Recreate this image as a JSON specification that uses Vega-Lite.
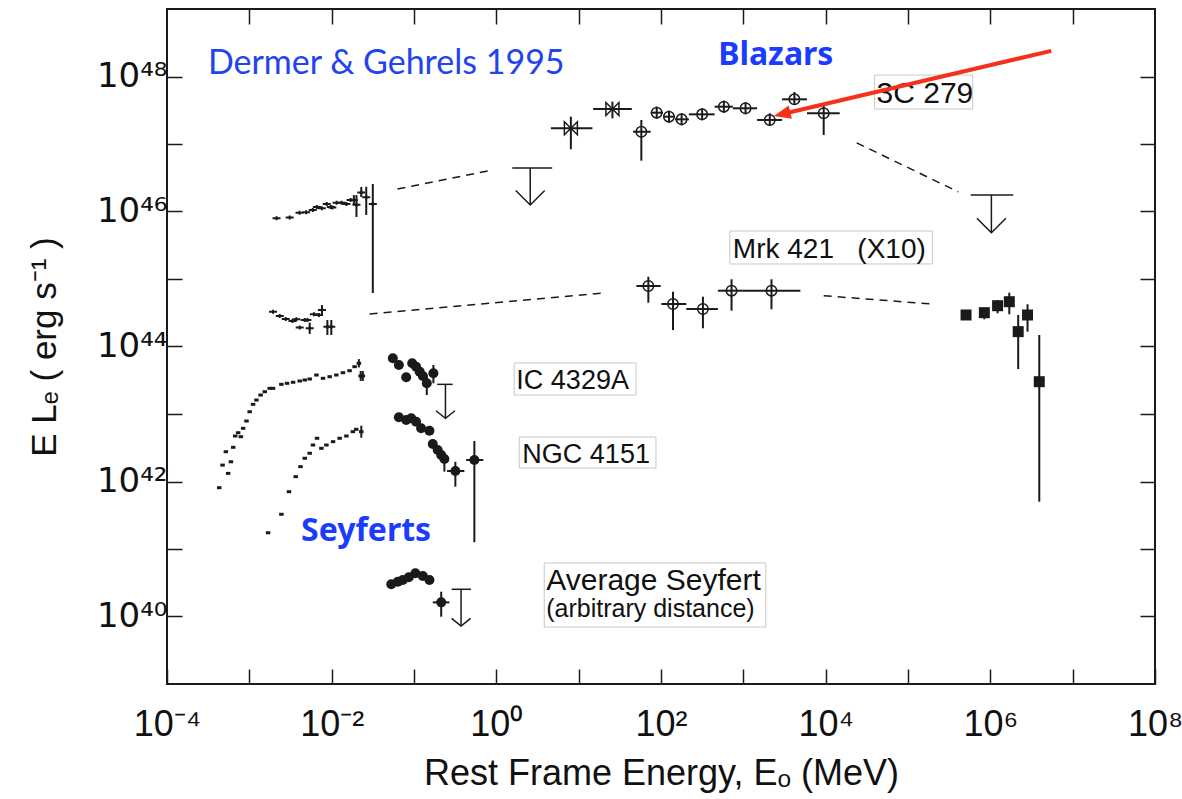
{
  "$schema": "https://vega.github.io/schema/vega-lite/v6.json",
  "width": 988,
  "height": 675,
  "autosize": {"type": "none"},
  "padding": {"left": 167, "top": 9, "right": 27, "bottom": 115},
  "background": "white",
  "config": {"view": {"stroke": "#1a1a1a", "strokeWidth": 2}},
  "resolve": {"axis": {"x": "independent", "y": "independent"}},
  "datasets": {
    "boxes": [
      {"E1": 39300, "E2": 610000, "L1": 3.3e47, "L2": 1.05e48},
      {"E1": 686, "E2": 198000, "L1": 1.67e45, "L2": 5.14e45},
      {"E1": 1.65, "E2": 49.8, "L1": 1.91e43, "L2": 5.7e43},
      {"E1": 1.9, "E2": 86.9, "L1": 1.58e42, "L2": 4.56e42},
      {"E1": 3.82, "E2": 1875, "L1": 6.99e39, "L2": 6.21e40}
    ],
    "dash": [
      {"seg": "a", "E": 0.063, "L": 2.15e46}, {"seg": "a", "E": 0.895, "L": 4.12e46},
      {"seg": "b", "E": 23800, "L": 1.04e47}, {"seg": "b", "E": 409000, "L": 1.95e46},
      {"seg": "c", "E": 0.0289, "L": 3.03e44}, {"seg": "c", "E": 20.4, "L": 6.2e44},
      {"seg": "d", "E": 9460, "L": 5.66e44}, {"seg": "d", "E": 193000, "L": 4.26e44}
    ],
    "pts": [
      {"g": "circ", "E": 57.7, "L": 1.52e47, "Elo": 45.8, "Ehi": 75, "Llo": 5.66e46, "Lhi": 2.27e47},
      {"g": "circ", "E": 88.7, "L": 2.91e47, "Elo": 75, "Ehi": 105.7, "Llo": 2.37e47, "Lhi": 3.58e47},
      {"g": "circ", "E": 125, "L": 2.54e47, "Elo": 105.7, "Ehi": 148, "Llo": 2.07e47, "Lhi": 3.12e47},
      {"g": "circ", "E": 178, "L": 2.32e47, "Elo": 148, "Ehi": 218, "Llo": 1.89e47, "Lhi": 2.85e47},
      {"g": "circ", "E": 316, "L": 2.75e47, "Elo": 218, "Ehi": 448, "Llo": 2.24e47, "Lhi": 3.38e47},
      {"g": "circ", "E": 580, "L": 3.57e47, "Elo": 448, "Ehi": 746, "Llo": 2.9e47, "Lhi": 4.39e47},
      {"g": "circ", "E": 1064, "L": 3.38e47, "Elo": 746, "Ehi": 1469, "Llo": 2.75e47, "Lhi": 4.16e47},
      {"g": "circ", "E": 2094, "L": 2.27e47, "Elo": 1469, "Ehi": 2953, "Llo": 1.85e47, "Lhi": 2.85e47},
      {"g": "circ", "E": 4170, "L": 4.59e47, "Elo": 2953, "Ehi": 5930, "Llo": 3.78e47, "Lhi": 5.9e47},
      {"g": "circ", "E": 9460, "L": 2.85e47, "Elo": 5930, "Ehi": 14800, "Llo": 1.36e47, "Lhi": 4.01e47},
      {"g": "bow", "E": 8.04, "L": 1.71e47, "Elo": 4.6, "Ehi": 14.7, "Llo": 8.35e46, "Lhi": 2.54e47},
      {"g": "bow", "E": 25.7, "L": 3.3e47, "Elo": 15, "Ehi": 44.2, "Llo": 2.4e47, "Lhi": 4.24e47},
      {"g": "circ", "E": 70.2, "L": 7.87e44, "Elo": 50.2, "Ehi": 99, "Llo": 4.46e44, "Lhi": 1.08e45},
      {"g": "circ", "E": 139.8, "L": 4.26e44, "Elo": 101, "Ehi": 203, "Llo": 1.75e44, "Lhi": 6.48e44},
      {"g": "circ", "E": 323, "L": 3.59e44, "Elo": 203, "Ehi": 491, "Llo": 1.86e44, "Lhi": 5.47e44},
      {"g": "circ", "E": 719, "L": 6.71e44, "Elo": 491, "Ehi": 986, "Llo": 3.39e44, "Lhi": 9.9e44},
      {"g": "circ", "E": 2197, "L": 6.71e44, "Elo": 986, "Ehi": 4932, "Llo": 3.56e44, "Lhi": 9.9e44},
      {"g": "sq", "E": 507000, "L": 2.93e44},
      {"g": "sq", "E": 846000, "L": 3.17e44, "Llo": 2.53e44, "Lhi": 3.68e44},
      {"g": "sq", "E": 1225000, "L": 4.02e44, "Llo": 3.1e44, "Lhi": 4.89e44},
      {"g": "sq", "E": 1700000, "L": 4.61e44, "Llo": 3.0e44, "Lhi": 6.27e44},
      {"g": "sq", "E": 2180000, "L": 1.66e44, "Llo": 4.64e43, "Lhi": 2.93e44},
      {"g": "sq", "E": 2830000, "L": 2.93e44, "Llo": 1.66e44, "Lhi": 4.22e44},
      {"g": "sq", "E": 3930000, "L": 3.01e43, "Llo": 5.02e41, "Lhi": 1.48e44},
      {"g": "dot", "E": 0.0553, "L": 6.68e43},
      {"g": "dot", "E": 0.0655, "L": 5.32e43},
      {"g": "dot", "E": 0.0804, "L": 3.5e43},
      {"g": "dot", "E": 0.0951, "L": 5.64e43},
      {"g": "dot", "E": 0.106, "L": 5.02e43},
      {"g": "dot", "E": 0.117, "L": 4.24e43},
      {"g": "dot", "E": 0.128, "L": 3.66e43},
      {"g": "dot", "E": 0.143, "L": 2.85e43, "Llo": 1.91e43, "Lhi": 3.78e43},
      {"g": "dot", "E": 0.172, "L": 4.01e43, "Llo": 2.85e43, "Lhi": 5.32e43},
      {"g": "dot", "E": 0.0655, "L": 8.94e42},
      {"g": "dot", "E": 0.0804, "L": 8.15e42},
      {"g": "dot", "E": 0.0925, "L": 8.63e42},
      {"g": "dot", "E": 0.106, "L": 7.69e42},
      {"g": "dot", "E": 0.122, "L": 6.14e42},
      {"g": "dot", "E": 0.154, "L": 5.66e42},
      {"g": "dot", "E": 0.169, "L": 3.59e42},
      {"g": "dot", "E": 0.194, "L": 2.93e42},
      {"g": "dot", "E": 0.214, "L": 2.47e42},
      {"g": "dot", "E": 0.234, "L": 2.15e42, "Llo": 1.4e42, "Lhi": 2.62e42},
      {"g": "dot", "E": 0.318, "L": 1.43e42, "Elo": 0.252, "Ehi": 0.409, "Llo": 8.38e41, "Lhi": 1.96e42},
      {"g": "dot", "E": 0.541, "L": 2.08e42, "Elo": 0.43, "Ehi": 0.695, "Llo": 1.26e41, "Lhi": 3.98e42},
      {"g": "dot", "E": 0.053, "L": 3.0e40},
      {"g": "dot", "E": 0.0637, "L": 3.28e40},
      {"g": "dot", "E": 0.0731, "L": 3.47e40},
      {"g": "dot", "E": 0.0865, "L": 3.81e40},
      {"g": "dot", "E": 0.104, "L": 4.37e40},
      {"g": "dot", "E": 0.128, "L": 3.98e40},
      {"g": "dot", "E": 0.154, "L": 3.47e40},
      {"g": "dot", "E": 0.214, "L": 1.62e40, "Elo": 0.169, "Ehi": 0.269, "Llo": 9.93e39, "Lhi": 2.33e40},
      {"g": "xp", "E": 0.00214, "L": 7.94e45},
      {"g": "xp", "E": 0.00309, "L": 8.13e45},
      {"g": "xp", "E": 0.00407, "L": 9.55e45},
      {"g": "xp", "E": 0.0049, "L": 9.77e45},
      {"g": "xp", "E": 0.00589, "L": 1.05e46},
      {"g": "xp", "E": 0.00661, "L": 1.17e46},
      {"g": "xp", "E": 0.00759, "L": 1.12e46},
      {"g": "xp", "E": 0.00871, "L": 1.29e46},
      {"g": "xp", "E": 0.00977, "L": 1.17e46},
      {"g": "xp", "E": 0.0102, "L": 1.15e46},
      {"g": "xp", "E": 0.0115, "L": 1.35e46},
      {"g": "xp", "E": 0.0132, "L": 1.35e46},
      {"g": "xp", "E": 0.0151, "L": 1.29e46},
      {"g": "xp", "E": 0.017, "L": 1.48e46},
      {"g": "xp", "E": 0.0186, "L": 1.48e46, "Llo": 1.25e46, "Lhi": 1.75e46},
      {"g": "xp", "E": 0.02, "L": 1.26e46, "Llo": 8.3e45, "Lhi": 1.75e46},
      {"g": "xp", "E": 0.0229, "L": 1.91e46, "Llo": 1.64e46, "Lhi": 2.31e46},
      {"g": "xp", "E": 0.0263, "L": 1.62e46, "Llo": 8.87e45, "Lhi": 2.33e46},
      {"g": "xp", "E": 0.0316, "L": 1.29e46, "Llo": 6.2e44, "Lhi": 2.55e46},
      {"g": "xp", "E": 0.00194, "L": 3.28e44},
      {"g": "xp", "E": 0.00234, "L": 2.83e44},
      {"g": "xp", "E": 0.00277, "L": 2.55e44},
      {"g": "xp", "E": 0.00334, "L": 2.39e44},
      {"g": "xp", "E": 0.00373, "L": 2.53e44},
      {"g": "xp", "E": 0.00409, "L": 1.92e44},
      {"g": "xp", "E": 0.00471, "L": 2.47e44},
      {"g": "xp", "E": 0.00507, "L": 2.47e44},
      {"g": "xp", "E": 0.00541, "L": 1.86e44, "Llo": 1.53e44, "Lhi": 2.26e44},
      {"g": "xp", "E": 0.00609, "L": 3.0e44},
      {"g": "xp", "E": 0.00701, "L": 2.93e44},
      {"g": "xp", "E": 0.00762, "L": 3.47e44, "Llo": 2.93e44, "Lhi": 4.11e44},
      {"g": "xp", "E": 0.00887, "L": 1.96e44, "Llo": 1.48e44, "Lhi": 2.47e44},
      {"g": "xp", "E": 0.0099, "L": 1.96e44, "Llo": 1.48e44, "Lhi": 2.47e44},
      {"g": "xd", "E": 0.000431, "L": 8.09e41},
      {"g": "xd", "E": 0.000473, "L": 1.75e42},
      {"g": "xd", "E": 0.000553, "L": 1.32e42},
      {"g": "xd", "E": 0.000519, "L": 2.76e42},
      {"g": "xd", "E": 0.000597, "L": 1.96e42},
      {"g": "xd", "E": 0.000637, "L": 3.21e42},
      {"g": "xd", "E": 0.000673, "L": 4.72e42},
      {"g": "xd", "E": 0.000731, "L": 5.28e42},
      {"g": "xd", "E": 0.000789, "L": 4.61e42},
      {"g": "xd", "E": 0.000841, "L": 6.14e42},
      {"g": "xd", "E": 0.000924, "L": 7.87e42},
      {"g": "xd", "E": 0.00101, "L": 1.08e43},
      {"g": "xd", "E": 0.00111, "L": 1.39e43},
      {"g": "xd", "E": 0.00122, "L": 1.61e43},
      {"g": "xd", "E": 0.00137, "L": 1.91e43},
      {"g": "xd", "E": 0.00154, "L": 2.14e43},
      {"g": "xd", "E": 0.00177, "L": 2.4e43},
      {"g": "xd", "E": 0.00194, "L": 2.4e43},
      {"g": "xd", "E": 0.00245, "L": 2.75e43},
      {"g": "xd", "E": 0.00287, "L": 2.85e43},
      {"g": "xd", "E": 0.0034, "L": 2.95e43},
      {"g": "xd", "E": 0.00409, "L": 3.08e43},
      {"g": "xd", "E": 0.00471, "L": 3.19e43},
      {"g": "xd", "E": 0.00541, "L": 3.3e43},
      {"g": "xd", "E": 0.00653, "L": 3.78e43},
      {"g": "xd", "E": 0.00785, "L": 3.38e43},
      {"g": "xd", "E": 0.00946, "L": 3.57e43},
      {"g": "xd", "E": 0.0114, "L": 3.78e43},
      {"g": "xd", "E": 0.0137, "L": 4.09e43},
      {"g": "xd", "E": 0.0165, "L": 4.38e43},
      {"g": "xd", "E": 0.019, "L": 5.02e43},
      {"g": "xd", "E": 0.0214, "L": 5.64e43, "Llo": 4.9e43, "Lhi": 6.5e43},
      {"g": "xd", "E": 0.0225, "L": 3.66e43, "Llo": 3.09e43, "Lhi": 4.34e43},
      {"g": "xd", "E": 0.0239, "L": 3.66e43, "Llo": 3.09e43, "Lhi": 4.34e43},
      {"g": "xd", "E": 0.00169, "L": 1.74e41},
      {"g": "xd", "E": 0.00245, "L": 3.27e41},
      {"g": "xd", "E": 0.00303, "L": 7.06e41},
      {"g": "xd", "E": 0.00366, "L": 1.18e42},
      {"g": "xd", "E": 0.00418, "L": 1.66e42},
      {"g": "xd", "E": 0.00471, "L": 2.21e42},
      {"g": "xd", "E": 0.00541, "L": 2.62e42},
      {"g": "xd", "E": 0.00593, "L": 3.47e42},
      {"g": "xd", "E": 0.00664, "L": 4.37e42},
      {"g": "xd", "E": 0.0075, "L": 3.1e42},
      {"g": "xd", "E": 0.00863, "L": 3.47e42},
      {"g": "xd", "E": 0.0104, "L": 3.89e42},
      {"g": "xd", "E": 0.0125, "L": 4.37e42},
      {"g": "xd", "E": 0.0151, "L": 4.72e42},
      {"g": "xd", "E": 0.0181, "L": 5.47e42},
      {"g": "xd", "E": 0.0199, "L": 5.93e42},
      {"g": "xd", "E": 0.0229, "L": 5.47e42, "Llo": 4.46e42, "Lhi": 6.71e42}
    ],
    "ul": [
      {"k": "b", "E": 2.58, "Elo": 1.56, "Ehi": 4.77, "Lt": 4.41e46, "Lb": 1.25e46},
      {"k": "b", "E": 1030000, "Elo": 577000, "Ehi": 1900000, "Lt": 1.76e46, "Lb": 4.85e45},
      {"k": "s", "E": 0.241, "Elo": 0.191, "Ehi": 0.295, "Lt": 2.75e43, "Lb": 8.63e42},
      {"k": "s", "E": 0.373, "Elo": 0.287, "Ehi": 0.493, "Lt": 2.53e40, "Lb": 7.23e39}
    ],
    "arrow": [
      {"E1": 5500000, "L1": 2.4e48, "E2": 3366, "L2": 2.88e47, "Eh": 2953, "Lh": 2.78e47}
    ],
    "txt": [
      {"k": "credit", "t": "Dermer & Gehrels 1995", "E": 0.000314, "L": 1.09e48},
      {"k": "big", "t": "Blazars", "E": 2477, "L": 1.48e48},
      {"k": "big", "t": "Seyferts", "E": 0.0262, "L": 1.31e41},
      {"k": "n30", "t": "3C 279", "E": 41500, "L": 4.01e47},
      {"k": "n28", "t": "Mrk 421\u00a0\u00a0\u00a0(X10)", "E": 746, "L": 2.05e45},
      {"k": "n27", "t": "IC 4329A", "E": 1.75, "L": 2.35e43},
      {"k": "n27", "t": "NGC 4151", "E": 2.07, "L": 1.88e42},
      {"k": "n30", "t": "Average Seyfert", "E": 4.04, "L": 2.47e40},
      {"k": "small", "t": "(arbitrary distance)", "E": 4.04, "L": 9.84e39}
    ]
  },
  "layer": [
    {
      "data": {"name": "boxes"},
      "mark": {"type": "rect", "fill": "white", "fillOpacity": 0, "stroke": "#c8c8c8", "strokeWidth": 1},
      "encoding": {
        "x": {"field": "E1", "type": "quantitative", "scale": {"type": "log", "domain": [0.0001, 100000000], "nice": false},
          "axis": {"orient": "bottom", "values": [0.0001, 0.001, 0.01, 0.1, 1, 10, 100, 1000, 10000, 100000, 1000000, 10000000, 100000000],
            "domain": false, "grid": false, "tickSize": -15, "tickWidth": 1.5, "tickColor": "#1a1a1a",
            "labelExpr": "['10\u207b\u2074','','10\u207b\u00b2','','10\u2070','','10\u00b2','','10\u2074','','10\u2076','','10\u2078'][round(log(datum.value)/LN10)+4]",
            "labelFont": "Liberation Sans Narrow, Liberation Sans", "labelFontSize": 36, "labelColor": "#111111", "labelPadding": 38,
            "labelFlush": false, "labelOverlap": false, "labelBound": false,
            "title": "Rest Frame Energy, E\u2092  (MeV)", "titleFont": "Liberation Sans", "titleFontSize": 36, "titleFontWeight": "normal", "titleColor": "#111111", "titlePadding": 14}},
        "x2": {"field": "E2"},
        "y": {"field": "L1", "type": "quantitative", "scale": {"type": "log", "domain": [1e39, 1e49], "nice": false},
          "axis": {"orient": "left", "values": [1e40, 1e41, 1e42, 1e43, 1e44, 1e45, 1e46, 1e47, 1e48],
            "domain": false, "grid": false, "tickSize": -15, "tickWidth": 1.5, "tickColor": "#1a1a1a",
            "labelExpr": "['10\u2074\u2070','','10\u2074\u00b2','','10\u2074\u2074','','10\u2074\u2076','','10\u2074\u2078'][round(log(datum.value)/LN10)-40]",
            "labelFont": "DejaVu Sans", "labelFontSize": 34, "labelColor": "#111111", "labelPadding": 15,
            "labelFlush": false, "labelOverlap": false, "labelBound": false,
            "title": "E L\u2091  ( erg s\u207b\u00b9 )", "titleFont": "Liberation Sans", "titleFontSize": 35, "titleFontWeight": "normal", "titleColor": "#111111", "titlePadding": 34}},
        "y2": {"field": "L2"}
      }
    },
    {
      "data": {"name": "dash"},
      "mark": {"type": "line", "strokeDash": [8, 6], "strokeWidth": 1.5, "color": "#1a1a1a"},
      "encoding": {
        "x": {"field": "E", "type": "quantitative", "scale": {"type": "log", "domain": [0.0001, 100000000], "nice": false},
          "axis": {"orient": "top", "values": [0.001, 0.01, 0.1, 1, 10, 100, 1000, 10000, 100000, 1000000, 10000000],
            "domain": false, "grid": false, "labels": false, "title": null, "tickSize": -15, "tickWidth": 1.5, "tickColor": "#1a1a1a"}},
        "y": {"field": "L", "type": "quantitative", "scale": {"type": "log", "domain": [1e39, 1e49], "nice": false},
          "axis": {"orient": "right", "values": [1e40, 1e41, 1e42, 1e43, 1e44, 1e45, 1e46, 1e47, 1e48],
            "domain": false, "grid": false, "labels": false, "title": null, "tickSize": -15, "tickWidth": 1.5, "tickColor": "#1a1a1a"}},
        "detail": {"field": "seg"}
      }
    },
    {
      "data": {"name": "pts"},
      "transform": [{"filter": "isValid(datum.Llo)"}],
      "mark": {"type": "rule", "strokeWidth": 2, "color": "#1a1a1a"},
      "encoding": {
        "x": {"field": "E", "type": "quantitative", "scale": {"type": "log", "domain": [0.0001, 100000000], "nice": false}, "axis": null},
        "y": {"field": "Llo", "type": "quantitative", "scale": {"type": "log", "domain": [1e39, 1e49], "nice": false}, "axis": null},
        "y2": {"field": "Lhi"}
      }
    },
    {
      "data": {"name": "pts"},
      "transform": [{"filter": "isValid(datum.Elo)"}],
      "mark": {"type": "rule", "strokeWidth": 2, "color": "#1a1a1a"},
      "encoding": {
        "x": {"field": "Elo", "type": "quantitative", "scale": {"type": "log", "domain": [0.0001, 100000000], "nice": false}, "axis": null},
        "x2": {"field": "Ehi"},
        "y": {"field": "L", "type": "quantitative", "scale": {"type": "log", "domain": [1e39, 1e49], "nice": false}, "axis": null}
      }
    },
    {
      "data": {"name": "pts"},
      "transform": [{"filter": "datum.g == 'circ'"}],
      "mark": {"type": "point", "shape": "circle", "filled": false, "size": 110, "strokeWidth": 1.5, "color": "#1a1a1a", "opacity": 1},
      "encoding": {
        "x": {"field": "E", "type": "quantitative", "scale": {"type": "log", "domain": [0.0001, 100000000], "nice": false}, "axis": null},
        "y": {"field": "L", "type": "quantitative", "scale": {"type": "log", "domain": [1e39, 1e49], "nice": false}, "axis": null}
      }
    },
    {
      "data": {"name": "pts"},
      "transform": [{"filter": "datum.g == 'bow'"}],
      "mark": {"type": "point", "shape": "M-1,-1L1,1L1,-1L-1,1Z", "filled": false, "size": 169, "strokeWidth": 1.5, "color": "#1a1a1a", "opacity": 1},
      "encoding": {
        "x": {"field": "E", "type": "quantitative", "scale": {"type": "log", "domain": [0.0001, 100000000], "nice": false}, "axis": null},
        "y": {"field": "L", "type": "quantitative", "scale": {"type": "log", "domain": [1e39, 1e49], "nice": false}, "axis": null}
      }
    },
    {
      "data": {"name": "pts"},
      "transform": [{"filter": "datum.g == 'dot'"}],
      "mark": {"type": "point", "shape": "circle", "filled": true, "size": 100, "color": "#1a1a1a", "opacity": 1},
      "encoding": {
        "x": {"field": "E", "type": "quantitative", "scale": {"type": "log", "domain": [0.0001, 100000000], "nice": false}, "axis": null},
        "y": {"field": "L", "type": "quantitative", "scale": {"type": "log", "domain": [1e39, 1e49], "nice": false}, "axis": null}
      }
    },
    {
      "data": {"name": "pts"},
      "transform": [{"filter": "datum.g == 'sq'"}],
      "mark": {"type": "point", "shape": "square", "filled": true, "size": 121, "color": "#1a1a1a", "opacity": 1},
      "encoding": {
        "x": {"field": "E", "type": "quantitative", "scale": {"type": "log", "domain": [0.0001, 100000000], "nice": false}, "axis": null},
        "y": {"field": "L", "type": "quantitative", "scale": {"type": "log", "domain": [1e39, 1e49], "nice": false}, "axis": null}
      }
    },
    {
      "data": {"name": "pts"},
      "transform": [{"filter": "datum.g == 'xp'"}],
      "mark": {"type": "point", "shape": "M-1,0L1,0M0,-0.5L0,0.5", "filled": false, "size": 64, "strokeWidth": 2, "color": "#1a1a1a", "opacity": 1},
      "encoding": {
        "x": {"field": "E", "type": "quantitative", "scale": {"type": "log", "domain": [0.0001, 100000000], "nice": false}, "axis": null},
        "y": {"field": "L", "type": "quantitative", "scale": {"type": "log", "domain": [1e39, 1e49], "nice": false}, "axis": null}
      }
    },
    {
      "data": {"name": "pts"},
      "transform": [{"filter": "datum.g == 'xd'"}],
      "mark": {"type": "point", "shape": "M-1,0L1,0", "filled": false, "size": 20, "strokeWidth": 3, "color": "#1a1a1a", "opacity": 1},
      "encoding": {
        "x": {"field": "E", "type": "quantitative", "scale": {"type": "log", "domain": [0.0001, 100000000], "nice": false}, "axis": null},
        "y": {"field": "L", "type": "quantitative", "scale": {"type": "log", "domain": [1e39, 1e49], "nice": false}, "axis": null}
      }
    },
    {
      "data": {"name": "ul"},
      "mark": {"type": "rule", "strokeWidth": 1.5, "color": "#1a1a1a"},
      "encoding": {
        "x": {"field": "Elo", "type": "quantitative", "scale": {"type": "log", "domain": [0.0001, 100000000], "nice": false}, "axis": null},
        "x2": {"field": "Ehi"},
        "y": {"field": "Lt", "type": "quantitative", "scale": {"type": "log", "domain": [1e39, 1e49], "nice": false}, "axis": null}
      }
    },
    {
      "data": {"name": "ul"},
      "mark": {"type": "rule", "strokeWidth": 1.5, "color": "#1a1a1a"},
      "encoding": {
        "x": {"field": "E", "type": "quantitative", "scale": {"type": "log", "domain": [0.0001, 100000000], "nice": false}, "axis": null},
        "y": {"field": "Lt", "type": "quantitative", "scale": {"type": "log", "domain": [1e39, 1e49], "nice": false}, "axis": null},
        "y2": {"field": "Lb"}
      }
    },
    {
      "data": {"name": "ul"},
      "transform": [{"filter": "datum.k == 'b'"}],
      "mark": {"type": "point", "shape": "M-1,-1L0,0L1,-1", "filled": false, "size": 841, "strokeWidth": 1.5, "color": "#1a1a1a", "opacity": 1},
      "encoding": {
        "x": {"field": "E", "type": "quantitative", "scale": {"type": "log", "domain": [0.0001, 100000000], "nice": false}, "axis": null},
        "y": {"field": "Lb", "type": "quantitative", "scale": {"type": "log", "domain": [1e39, 1e49], "nice": false}, "axis": null}
      }
    },
    {
      "data": {"name": "ul"},
      "transform": [{"filter": "datum.k == 's'"}],
      "mark": {"type": "point", "shape": "M-1,-0.8L0,0L1,-0.8", "filled": false, "size": 361, "strokeWidth": 1.5, "color": "#1a1a1a", "opacity": 1},
      "encoding": {
        "x": {"field": "E", "type": "quantitative", "scale": {"type": "log", "domain": [0.0001, 100000000], "nice": false}, "axis": null},
        "y": {"field": "Lb", "type": "quantitative", "scale": {"type": "log", "domain": [1e39, 1e49], "nice": false}, "axis": null}
      }
    },
    {
      "data": {"name": "txt"},
      "transform": [{"filter": "datum.k == 'n27'"}],
      "mark": {"type": "text", "align": "left", "baseline": "alphabetic", "font": "Liberation Sans", "fontSize": 27, "color": "#111111"},
      "encoding": {
        "x": {"field": "E", "type": "quantitative", "scale": {"type": "log", "domain": [0.0001, 100000000], "nice": false}, "axis": null},
        "y": {"field": "L", "type": "quantitative", "scale": {"type": "log", "domain": [1e39, 1e49], "nice": false}, "axis": null},
        "text": {"field": "t"}
      }
    },
    {
      "data": {"name": "txt"},
      "transform": [{"filter": "datum.k == 'n28'"}],
      "mark": {"type": "text", "align": "left", "baseline": "alphabetic", "font": "Liberation Sans", "fontSize": 28, "color": "#111111"},
      "encoding": {
        "x": {"field": "E", "type": "quantitative", "scale": {"type": "log", "domain": [0.0001, 100000000], "nice": false}, "axis": null},
        "y": {"field": "L", "type": "quantitative", "scale": {"type": "log", "domain": [1e39, 1e49], "nice": false}, "axis": null},
        "text": {"field": "t"}
      }
    },
    {
      "data": {"name": "txt"},
      "transform": [{"filter": "datum.k == 'n30'"}],
      "mark": {"type": "text", "align": "left", "baseline": "alphabetic", "font": "Liberation Sans", "fontSize": 30, "color": "#111111"},
      "encoding": {
        "x": {"field": "E", "type": "quantitative", "scale": {"type": "log", "domain": [0.0001, 100000000], "nice": false}, "axis": null},
        "y": {"field": "L", "type": "quantitative", "scale": {"type": "log", "domain": [1e39, 1e49], "nice": false}, "axis": null},
        "text": {"field": "t"}
      }
    },
    {
      "data": {"name": "txt"},
      "transform": [{"filter": "datum.k == 'small'"}],
      "mark": {"type": "text", "align": "left", "baseline": "alphabetic", "font": "Liberation Sans", "fontSize": 25, "color": "#111111"},
      "encoding": {
        "x": {"field": "E", "type": "quantitative", "scale": {"type": "log", "domain": [0.0001, 100000000], "nice": false}, "axis": null},
        "y": {"field": "L", "type": "quantitative", "scale": {"type": "log", "domain": [1e39, 1e49], "nice": false}, "axis": null},
        "text": {"field": "t"}
      }
    },
    {
      "data": {"name": "txt"},
      "transform": [{"filter": "datum.k == 'credit'"}],
      "mark": {"type": "text", "align": "left", "baseline": "alphabetic", "font": "Lato", "fontSize": 34, "color": "#2244ee"},
      "encoding": {
        "x": {"field": "E", "type": "quantitative", "scale": {"type": "log", "domain": [0.0001, 100000000], "nice": false}, "axis": null},
        "y": {"field": "L", "type": "quantitative", "scale": {"type": "log", "domain": [1e39, 1e49], "nice": false}, "axis": null},
        "text": {"field": "t"}
      }
    },
    {
      "data": {"name": "txt"},
      "transform": [{"filter": "datum.k == 'big'"}],
      "mark": {"type": "text", "align": "center", "baseline": "alphabetic", "font": "Noto Sans", "fontWeight": "bold", "fontSize": 32, "color": "#1a3cff"},
      "encoding": {
        "x": {"field": "E", "type": "quantitative", "scale": {"type": "log", "domain": [0.0001, 100000000], "nice": false}, "axis": null},
        "y": {"field": "L", "type": "quantitative", "scale": {"type": "log", "domain": [1e39, 1e49], "nice": false}, "axis": null},
        "text": {"field": "t"}
      }
    },
    {
      "data": {"name": "arrow"},
      "mark": {"type": "rule", "strokeWidth": 4, "color": "#f5301c"},
      "encoding": {
        "x": {"field": "E1", "type": "quantitative", "scale": {"type": "log", "domain": [0.0001, 100000000], "nice": false}, "axis": null},
        "x2": {"field": "E2"},
        "y": {"field": "L1", "type": "quantitative", "scale": {"type": "log", "domain": [1e39, 1e49], "nice": false}, "axis": null},
        "y2": {"field": "L2"}
      }
    },
    {
      "data": {"name": "arrow"},
      "mark": {"type": "point", "shape": "M0,-1L-0.8,1L0.8,1Z", "filled": true, "size": 289, "angle": 256.8, "color": "#f5301c", "opacity": 1},
      "encoding": {
        "x": {"field": "Eh", "type": "quantitative", "scale": {"type": "log", "domain": [0.0001, 100000000], "nice": false}, "axis": null},
        "y": {"field": "Lh", "type": "quantitative", "scale": {"type": "log", "domain": [1e39, 1e49], "nice": false}, "axis": null}
      }
    }
  ]
}
